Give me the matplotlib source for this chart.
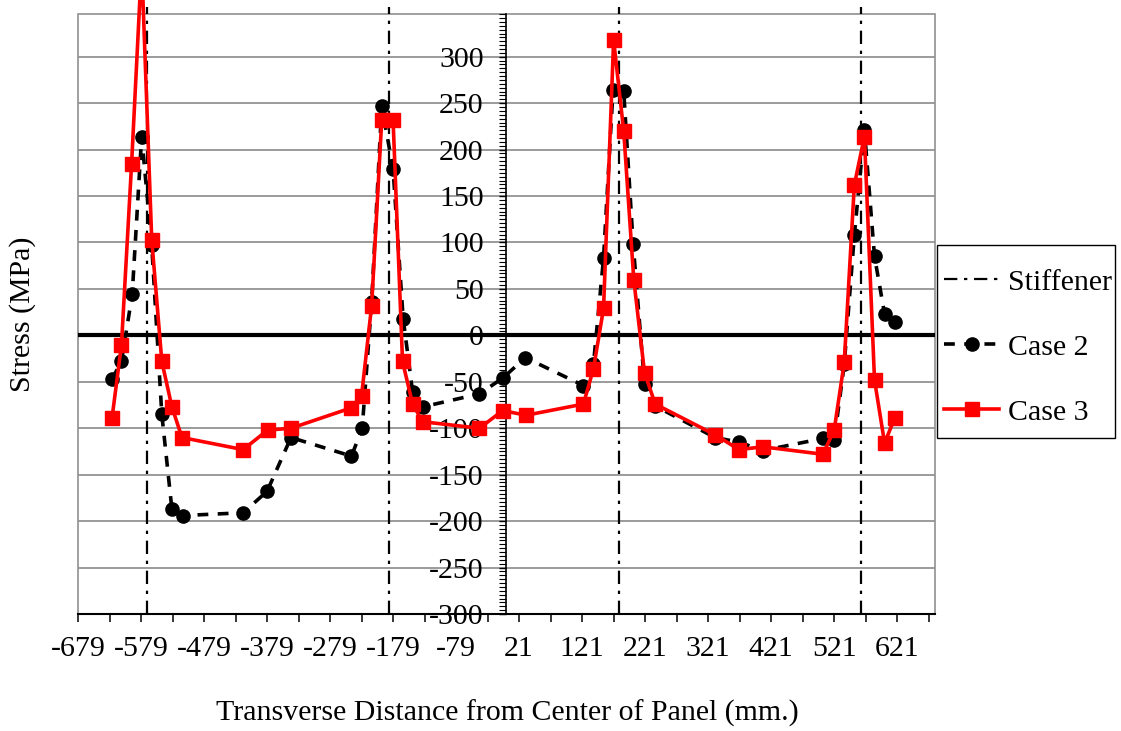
import numpy as np
import matplotlib
matplotlib.use("Agg")
import matplotlib.pyplot as plt
from matplotlib.ticker import FixedLocator, MultipleLocator
from matplotlib.patches import Rectangle

plt.rcParams['font.family'] = ['Liberation Serif', 'DejaVu Serif']

# data
stiffener_x = [-570, -186, 180, 563]

case2_x = [-625, -610, -593, -578, -562, -546, -530, -513, -417, -379, -341,
           -245, -228, -213, -197, -179, -163, -148, -132, -42, -5, 31,
           123, 139, 155, 170, 187, 202, 220, 237, 332, 370, 408,
           503, 521, 537, 553, 569, 585, 601, 617]
case2_y = [-47, -28, 44, 214, 97, -85, -187, -194, -191, -168, -110,
           -130, -100, 36, 247, 179, 18, -61, -77, -63, -46, -24,
           -54, -31, 83, 264, 263, 98, -52, -76, -110, -115, -124,
           -111, -113, -31, 108, 221, 85, 23, 14]

case3_x = [-625, -610, -594, -578, -562, -546, -530, -514, -417, -378, -341,
           -245, -229, -213, -197, -179, -164, -148, -132, -42, -5, 32,
           123, 139, 155, 171, 187, 203, 220, 237, 332, 370, 408,
           503, 521, 537, 553, 569, 585, 601, 617]
case3_y = [-89, -10, 184, 400, 103, -28, -77, -110, -123, -102, -100,
           -78, -65, 32, 232, 232, -28, -74, -93, -100, -81, -86,
           -74, -36, 29, 318, 220, 60, -40, -74, -107, -123, -120,
           -128, -102, -29, 162, 214, -48, -116, -89]

x_ticks = list(range(-679, 682, 50))
x_labels = [str(t) if i % 2 == 0 else "" for i, t in enumerate(x_ticks)]
y_ticks = list(range(-300, 301, 50))

fs = 21.5
W, H = 1121, 731

fig = plt.figure(figsize=(11.21, 7.31), dpi=100)
ax = fig.add_axes([78 / W, 1 - 614 / H, (935 - 78) / W, (614 - 14) / H])
ax.set_xlim(-679, 681)
ax.set_ylim(-300, 346)

# gridlines and zero line
for yv in y_ticks[1:]:
    ax.axhline(yv, color='#808080', lw=1.1, zorder=1)
ax.axhline(0, color='black', lw=3, zorder=2)
ax.add_patch(Rectangle((0, 0), 1, 1, transform=ax.transAxes, fill=False,
                       edgecolor='#909090', lw=1.2, zorder=1, clip_on=False))

# stiffener positions
for i, sx in enumerate(stiffener_x):
    ax.plot([sx, sx], [-300, 353], color='black', lw=1.6,
            dashes=(6, 3, 1.5, 3), clip_on=False, zorder=3,
            label='Stiffener' if i == 0 else None)

ax.plot(case2_x, case2_y, color='black', lw=2.6, dashes=(3, 2.6),
        marker='o', markersize=9.5, label='Case 2', zorder=4)
ax.plot(case3_x, case3_y, color='#ff0000', lw=2.6, marker='s',
        markersize=9.5, label='Case 3', zorder=5, clip_on=False)

for side in ['top', 'right']:
    ax.spines[side].set_visible(False)
ax.spines['left'].set_position(('data', 0))
ax.spines['left'].set_color('black')
ax.spines['left'].set_linewidth(1.2)
ax.spines['bottom'].set_linewidth(1.5)

ax.xaxis.set_major_locator(FixedLocator(x_ticks))
ax.set_xticklabels(x_labels, fontsize=fs)
ax.tick_params(axis='x', direction='out', length=6, width=1.1, pad=10)

ax.yaxis.set_major_locator(FixedLocator(y_ticks))
ax.yaxis.set_minor_locator(MultipleLocator(50 / 12))
ax.set_yticklabels([str(t) for t in y_ticks], fontsize=fs)
ax.tick_params(axis='y', which='major', direction='out', length=5, width=1, pad=11)
ax.tick_params(axis='y', which='minor', direction='out', length=5, width=0.8)

fig.text(23 / W, 1 - 314 / H, 'Stress (MPa)', rotation=90,
         ha='center', va='center', fontsize=fs)
fig.text(507 / W, 1 - 713 / H, 'Transverse Distance from Center of Panel (mm.)',
         ha='center', va='center', fontsize=fs)

# legend box drawn separately so its size matches the reference
fig.patches.append(Rectangle((937 / W, 1 - 438 / H), (1115 - 937) / W, (438 - 245) / H,
                             transform=fig.transFigure, fill=False,
                             edgecolor='black', lw=1.0))
leg = fig.legend(loc='upper left', bbox_to_anchor=(944 / W, 1 - 269 / H),
                 fontsize=fs, frameon=False, handlelength=1.85,
                 handletextpad=0.3, labelspacing=1.27,
                 borderpad=0, borderaxespad=0)

fig.savefig('out.png', dpi=100)
